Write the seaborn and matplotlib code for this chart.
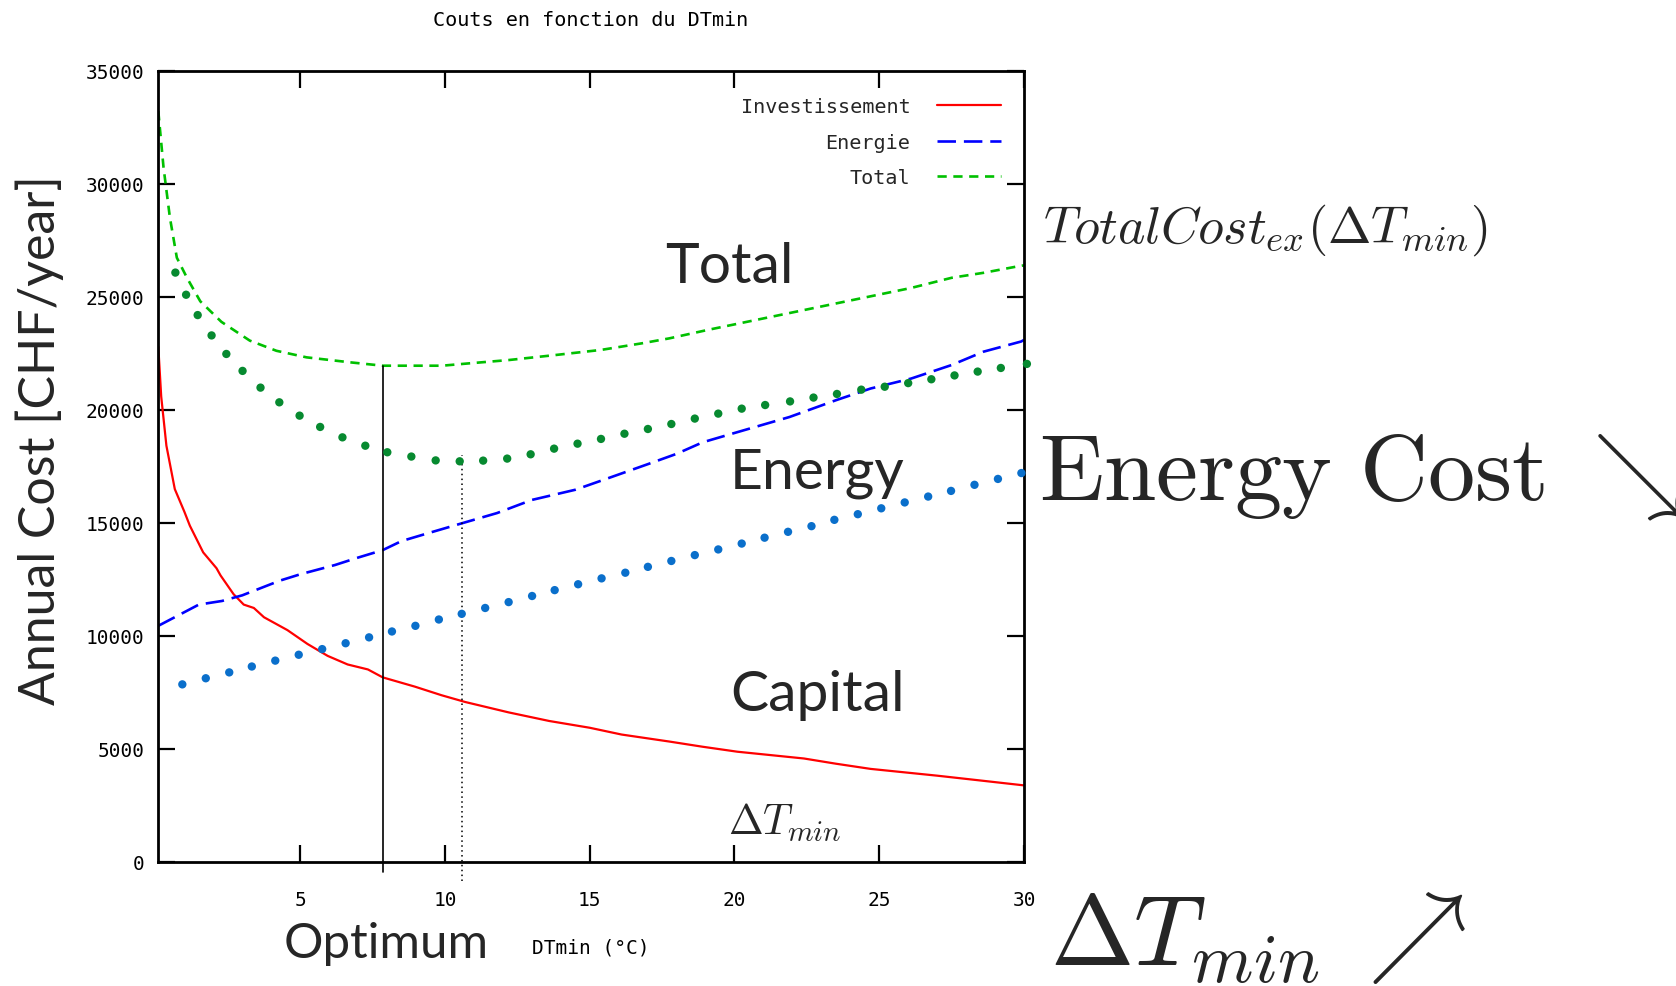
import matplotlib
matplotlib.use("Agg")
import matplotlib.pyplot as plt
import seaborn as sns
import numpy as np

# ---------------- data ----------------
inv_x = [0.1, 0.2, 0.38, 0.67, 1.0, 1.19, 1.65, 2.11, 2.25, 2.7, 3.05, 3.4, 3.75, 4.56, 5.25,
         5.95, 6.64, 7.34, 7.85, 8.96, 9.88, 10.7, 12.2, 13.6, 15.0, 16.1, 17.75, 18.9,
         20.1, 22.4, 23.5, 24.7, 27.0, 28.4, 30.0]
inv_y = [22800, 20600, 18420, 16500, 15500, 14880, 13700, 13000, 12680, 11850, 11390, 11240,
         10830, 10260, 9650, 9120, 8740, 8520, 8170, 7760, 7380, 7080, 6620, 6240, 5940, 5640,
         5330, 5100, 4880, 4580, 4350, 4120, 3820, 3620, 3390]

ene_x = [0.1, 1.5, 2.3, 3.0, 4.3, 5.0, 6.2, 6.95, 7.85, 8.5, 9.5, 10.7, 11.8, 13.0, 14.5, 15.5,
         17.0, 18.0, 18.9, 20.1, 21.9, 23.5, 24.7, 26.1, 27.5, 28.6, 29.9, 30.0]
ene_y = [10450, 11390, 11550, 11800, 12450, 12730, 13140, 13450, 13800, 14200, 14580, 15030,
         15440, 16020, 16470, 16920, 17600, 18060, 18570, 19020, 19690, 20430, 20950, 21390,
         21990, 22580, 23030, 23100]

tot_x = [0.1, 0.28, 0.5, 0.74, 1.09, 1.55, 2.28, 3.26, 4.18, 5.22, 6.72, 7.85, 9.9, 10.8,
         12.2, 13.8, 15.4, 16.8, 17.75, 19.1, 20.5, 21.9, 23.3, 24.7, 26.1, 27.5, 28.6, 29.8, 30.0]
tot_y = [33220, 30740, 28520, 26740, 25850, 24810, 23900, 23070, 22620, 22330, 22110, 21960,
         21960, 22060, 22210, 22430, 22660, 22950, 23170, 23550, 23920, 24290, 24660, 25030,
         25400, 25850, 26070, 26360, 26400]

# sketched (dotted) curves
gdot_x = [0.69, 1.06, 1.46, 1.94, 2.45, 3.01, 3.63, 4.28, 4.98, 5.69, 6.46, 7.25, 8.01, 8.84,
          9.68, 10.51, 11.32, 12.15, 12.96, 13.77, 14.58, 15.39, 16.2, 17.01, 17.82, 18.63,
          19.44, 20.25, 21.06, 21.92, 22.73, 23.54, 24.38, 25.19, 26.0, 26.8, 27.6, 28.4,
          29.2, 30.1]
gdot_y = [26080, 25100, 24200, 23300, 22480, 21730, 20990, 20340, 19750, 19250, 18790, 18420,
          18130, 17940, 17770, 17730, 17760, 17850, 18040, 18290, 18510, 18720, 18950, 19160,
          19380, 19620, 19840, 20060, 20220, 20380, 20550, 20710, 20900, 21030, 21190, 21360,
          21530, 21700, 21860, 22040]

bdot_x = [0.93, 1.74, 2.55, 3.33, 4.14, 4.95, 5.76, 6.57, 7.38, 8.17, 8.98, 9.79, 10.58, 11.39,
          12.2, 13.01, 13.79, 14.6, 15.41, 16.23, 17.01, 17.82, 18.63, 19.44, 20.25, 21.04,
          21.85, 22.66, 23.45, 24.26, 25.07, 25.88, 26.69, 27.48, 28.29, 29.1, 29.91]
bdot_y = [7860, 8130, 8390, 8650, 8910, 9170, 9420, 9680, 9940, 10200, 10450, 10730, 10980,
          11240, 11500, 11770, 12030, 12290, 12550, 12800, 13060, 13320, 13580, 13830, 14090,
          14350, 14610, 14860, 15140, 15390, 15650, 15910, 16170, 16420, 16690, 16950, 17210]

# optimum markers: x position, bottom, top
opt_solid = (7.85, -430, 21960)
opt_dotted = (10.6, -830, 18000)

x_ticks = [5, 10, 15, 20, 25, 30]
y_ticks = [0, 5000, 10000, 15000, 20000, 25000, 30000, 35000]

series_labels = ["Investissement", "Energie", "Total"]

# ---------------- styling ----------------
sns.set_theme(style="white")
plt.rcParams["font.family"] = ["DejaVu Sans Mono", "DejaVu Sans"]
plt.rcParams["mathtext.fontset"] = "cm"

W, H = 1676, 987
fig = plt.figure(figsize=(W / 100, H / 100), dpi=100)
fig.patch.set_facecolor("white")
L, R, T, B = 158.3, 1024, 72, 863
ax = fig.add_axes([L / W, 1 - B / H, (R - L) / W, (B - T) / H])
ax.set_facecolor("white")

sns.lineplot(x=inv_x, y=inv_y, ax=ax, color="#ff0000", linewidth=1.6,
             label=series_labels[0], sort=False, estimator=None)
sns.lineplot(x=ene_x, y=ene_y, ax=ax, color="#0000ff", linewidth=1.9,
             linestyle=(0, (7, 3)), label=series_labels[1], sort=False, estimator=None)
sns.lineplot(x=tot_x, y=tot_y, ax=ax, color="#00c000", linewidth=1.9,
             linestyle=(0, (3.5, 2.5)), label=series_labels[2], sort=False, estimator=None)

sns.scatterplot(x=gdot_x, y=gdot_y, ax=ax, color="#078a30", s=36, edgecolor="none",
                legend=False, clip_on=False, zorder=4)
sns.scatterplot(x=bdot_x, y=bdot_y, ax=ax, color="#0a6fcb", s=36, edgecolor="none",
                legend=False, clip_on=False, zorder=4)

ax.plot([opt_solid[0]] * 2, opt_solid[1:], color="black", linewidth=1.2, clip_on=False)
ax.plot([opt_dotted[0]] * 2, opt_dotted[1:], color="black", linewidth=1.1,
        linestyle=(0, (1, 2.2)), clip_on=False)

ax.set_xlim(0.1, 30)
ax.set_ylim(0, 35000)
ax.set_xticks(x_ticks)
ax.set_yticks(y_ticks)
ax.set_xticklabels([str(v) for v in x_ticks])
ax.set_yticklabels([str(v) for v in y_ticks])

for s in ax.spines.values():
    s.set_color("black")
    s.set_linewidth(2.0)
ax.tick_params(axis="both", direction="in", length=12, width=1.6, colors="black",
               top=True, right=True, bottom=True, left=True, labelsize=14)
ax.tick_params(axis="x", pad=20)
ax.tick_params(axis="y", pad=10)
ax.grid(False)

ax.set_xlabel("DTmin (°C)", fontsize=14, labelpad=21, color="black")
ax.set_ylabel("")

leg = ax.legend(loc="upper right", bbox_to_anchor=(0.9734, 0.967), frameon=False,
                markerfirst=False, handlelength=3.2, handletextpad=1.3, labelspacing=0.82,
                borderpad=0, borderaxespad=0, fontsize=14.5)

fig.text(591 / W, 1 - 20 / H, "Couts en fonction du DTmin", ha="center", va="center",
         fontsize=14.5, color="black")

big = ["Lato", "DejaVu Sans"]
fig.text(665 / W, 1 - 283 / H, "Total", family=big, fontsize=41, ha="left", va="baseline")
fig.text(730 / W, 1 - 489 / H, "Energy", family=big, fontsize=41, ha="left", va="baseline")
fig.text(730 / W, 1 - 711 / H, "Capital", family=big, fontsize=41, ha="left", va="baseline")
fig.text(284 / W, 1 - 958 / H, "Optimum", family=big, fontsize=35.5, ha="left", va="baseline")
fig.text(40 / W, 1 - 440 / H, "Annual Cost [CHF/year]", family=big, fontsize=36,
         rotation=90, ha="center", va="center")

fig.text(728 / W, 1 - 835 / H, r"$\Delta T_{min}$", fontsize=30, ha="left", va="baseline")
fig.text(1043 / W, 1 - 243 / H, r"$TotalCost_{ex}(\Delta T_{min})$", fontsize=37.5,
         ha="left", va="baseline")
fig.text(1039 / W, 1 - 500 / H, r"$\mathrm{Energy\ Cost}\ \searrow$", fontsize=68,
         ha="left", va="baseline")
fig.text(1050 / W, 1 - 965 / H, r"$\Delta T_{min}\;\nearrow$", fontsize=72,
         ha="left", va="baseline")

fig.savefig("out.png", dpi=100)
